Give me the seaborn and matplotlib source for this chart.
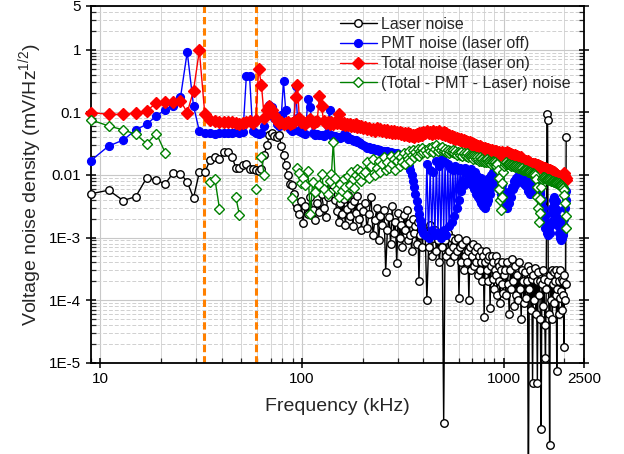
import numpy as np
import pandas as pd
import matplotlib
matplotlib.use("Agg")
import matplotlib.pyplot as plt
import seaborn as sns
from matplotlib.ticker import FixedLocator, FixedFormatter, LogLocator, NullFormatter

sns.set_theme(style="ticks")
plt.rcParams['font.family'] = ['Liberation Sans', 'DejaVu Sans']
plt.rcParams['mathtext.default'] = 'regular'

nan = np.nan

# ---------------- data ----------------
freq = [9, 11, 13, 15, 17, 19, 21, 23, 25, 27,
        29, 31, 33, 35, 37, 39, 41, 43, 45, 47,
        49, 51, 53, 55, 57, 59, 61, 63, 65, 67,
        69, 71, 73, 75, 77, 79, 81, 83, 85, 87,
        89, 91, 93, 95, 97, 99,
        101, 104, 107, 110, 113, 116, 119, 122, 125, 128,
        131, 134, 137, 140, 143, 146, 149, 152, 155, 158,
        161, 164, 167, 170, 173, 176, 179, 182, 185, 188,
        191, 194, 197, 200,
        205, 210, 215, 220, 225, 230, 235, 240, 245, 250,
        255, 260, 265, 270, 275, 280, 285, 290, 295, 300,
        305, 310, 315, 320, 325, 330, 335, 340, 345, 350,
        355, 360, 365, 370, 375, 380, 385, 390, 395, 400,
        408, 416, 424, 432, 440, 448, 456, 464, 472, 480,
        488, 496, 504, 512, 520, 528, 536, 544, 552, 560,
        568, 576, 584, 592, 600, 608, 616, 624, 632, 640,
        648, 656, 664, 672, 680, 688, 696, 704, 712, 720,
        728, 736, 744, 752, 760, 768, 776, 784, 792, 800,
        808, 816, 824, 832, 840, 848, 856, 864, 872, 880,
        888, 896, 904, 912, 920, 928, 936, 944, 952, 960,
        968, 976, 984, 992, 1000,
        1013, 1026, 1039, 1052, 1065, 1078, 1091, 1104, 1117, 1130,
        1143, 1156, 1169, 1182, 1195, 1208, 1221, 1234, 1247, 1260,
        1273, 1286, 1299, 1312, 1325, 1338, 1351, 1364, 1377, 1390,
        1403, 1416, 1429, 1442, 1455, 1468, 1481, 1494, 1507, 1520,
        1533, 1546, 1559, 1572, 1585, 1598, 1611, 1624, 1637, 1650,
        1663, 1676, 1689, 1702, 1715, 1728, 1741, 1754, 1767, 1780,
        1793, 1806, 1819, 1832, 1845, 1858, 1871, 1884, 1897, 1910,
        1923, 1936, 1949, 1962, 1975, 1988, 2001, 2014, 2027, 2040]

laser = [0.0050, 0.0057, 0.0039, 0.0045, 0.0090, 0.0082, 0.0072, 0.0108, 0.0105, 0.0077,
         0.0043, 0.0110, 0.0110, 0.0172, 0.0195, 0.0177, 0.0232, 0.0232, 0.0195, 0.0130,
         0.0130, 0.0142, 0.0147, 0.0124, 0.0124, 0.0120, 0.0115, 0.0125, 0.0210, 0.0300,
         0.0430, 0.0460, 0.0420, 0.0410, 0.0430, 0.0295, 0.0210, 0.0142, 0.0098, 0.0072,
         0.0070, 0.0050, 0.0036, 0.0030, 0.0024, 0.0039,
         0.0017, 0.0032, 0.0024, 0.0045, 0.0028, 0.0019, 0.0036, 0.0026, 0.0050, 0.0030,
         0.0021, 0.0044, 0.0062, 0.0055, 0.0068, 0.0040, 0.0027, 0.0018, 0.0035, 0.0024,
         0.0042, 0.0016, 0.0029, 0.0048, 0.0022, 0.0033, 0.0015, 0.0038, 0.0025, 0.0046,
         0.0020, 0.0031, 0.0013, 0.0027,
         0.0036, 0.0014, 0.0024, 0.0045, 0.0011, 0.0019, 0.0030, 0.0009, 0.0022, 0.0016,
         0.0028, 0.00028, 0.0013, 0.0021, 0.0008, 0.0032, 0.0012, 0.0018, 0.00039, 0.0025,
         0.0010, 0.0016, 0.0007, 0.0023, 0.0013, 0.0028, 0.0009, 0.0017, 0.0011, 0.0006,
         0.0020, 0.0012, 0.0015, 0.0008, 0.0018, 0.00020, 0.0011, 0.0014, 0.0007, 0.0013,
         0.0012, 0.00010, 0.0007, 0.0016, 0.0005, 0.0010, 0.0013, 0.0006, 0.0009, 0.0004,
         0.0011, 0.0007, 1.1e-6, 0.0009, 0.0005, 0.0012, 0.0006, 0.0004, 0.0010, 0.0007,
         0.0005, 0.0009, 0.0006, 0.0010, 0.00011, 0.0007, 0.0004, 0.0008, 0.0003, 0.0005,
         0.0009, 0.0004, 0.0006, 0.00010, 0.0007, 0.0003, 0.0005, 0.0008, 0.00035, 0.0006,
         0.0004, 0.0007, 0.00025, 0.0005, 0.0003, 0.0006, 0.0004, 0.0002, 0.0005, 0.000053,
         0.0004, 0.0006, 0.0003, 0.00045, 0.0002, 0.0005, 0.000074, 0.00035, 0.0005, 0.00022,
         0.0004, 0.00015, 0.0003, 0.0005, 0.00025, 0.00012, 0.0004, 0.0002, 0.00035, 0.00009,
         0.0003, 0.00018, 0.0004, 0.00013, 0.00025,
         0.0003, 0.00012, 0.0004, 0.00018, 0.00006, 0.0003, 0.00015, 0.00045, 0.0002, 0.00008,
         0.00035, 0.00012, 0.00025, 0.0001, 0.0004, 0.00015, 0.00005, 0.0003, 0.0002, 0.00009,
         0.00028, 0.00011, 0.0002, 0.00035, 5e-8, 0.00015, 0.0003, 0.00007, 0.00022, 4.8e-6,
         0.00025, 0.0001, 0.00032, 0.00006, 0.0002, 4.8e-6, 0.00028, 0.00012, 0.0002, 0.00005,
         8.6e-7, 0.00018, 0.0003, 0.00008, 0.00022, 0.00004, 1.2e-5, 0.00015, 0.094, 0.076,
         0.0002, 0.00006, 4.9e-7, 0.00025, 0.0001, 0.0003, 0.00005, 0.00018, 0.00028, 0.00009,
         0.0002, 0.00012, 0.0003, 7.4e-6, 0.00015, 0.00025, 0.00006, 0.0002, 0.00011, 0.0003,
         0.00014, 0.00022, 0.00007, 0.0002, 0.00012, 1.8e-5, 0.00025, 0.0001, 0.00018, 0.041]

pmt = [0.0170, 0.0289, 0.0361, 0.0523, 0.0646, 0.0879, 0.110, 0.127, 0.174, 0.92,
       0.127, 0.050, 0.046, 0.047, 0.045, 0.046, 0.047, 0.046, 0.047, 0.048,
       0.047, 0.048, 0.375, 0.375, 0.050, 0.046, 0.045, 0.047, 0.060, 0.110,
       0.132, 0.120, 0.080, 0.065, 0.060, 0.090, 0.312, 0.110, 0.060, 0.055,
       0.050, 0.052, 0.259, 0.080, 0.050, 0.048,
       0.047, 0.045, 0.163, 0.120, 0.046, 0.044, 0.045, 0.043, 0.044, 0.042,
       0.045, 0.060, 0.110, 0.043, 0.041, 0.042, 0.040, 0.041, 0.039, 0.040,
       0.045, 0.060, 0.042, 0.038, 0.037, 0.038, 0.036, 0.035, 0.036, 0.034,
       0.033, 0.032, 0.031, 0.030,
       0.029, 0.027, 0.028, 0.026, 0.027, 0.025, 0.026, 0.024, 0.025, 0.023,
       0.024, 0.022, 0.024, 0.021, 0.023, 0.021, 0.022, 0.020, 0.022, 0.020,
       0.021, 0.019, 0.020, 0.018, 0.019, 0.017, 0.016, 0.014, 0.012, 0.010,
       0.008, 0.0065, 0.005, 0.0038, 0.003, 0.0024, 0.0019, 0.0016, 0.0013, 0.0012,
       0.0011, 0.0150, 0.0010, 0.0120, 0.0013, 0.0113, 0.0011, 0.0170, 0.0012, 0.0140,
       0.0010, 0.0180, 0.0013, 0.0160, 0.0011, 0.0150, 0.0015, 0.0130, 0.0018, 0.0120,
       0.0022, 0.0140, 0.0030, 0.0120, 0.0040, 0.0130, 0.0055, 0.0120, 0.0070, 0.0130,
       0.0080, 0.0120, 0.0075, 0.0110, 0.0090, 0.0125, 0.0070, 0.0100, 0.0060, 0.0110,
       0.0050, 0.0095, 0.0045, 0.0085, 0.0040, 0.0090, 0.0035, 0.0080, 0.0032, 0.0075,
       0.0030, 0.0080, 0.0035, 0.0085, 0.0040, 0.0090, 0.0050, 0.0100, 0.0065, 0.0110,
       0.0075, 0.0120, 0.0085, 0.0110, 0.0090, 0.0120, 0.0080, 0.0100, 0.0060, 0.0085,
       0.0050, 0.0070, 0.0040, 0.0055, 0.0035,
       0.0032, 0.0045, 0.0030, 0.0040, 0.0035, 0.0055, 0.0045, 0.0065, 0.0060, 0.0080,
       0.0070, 0.0090, 0.0080, 0.0095, 0.0085, 0.0100, 0.0080, 0.0095, 0.0075, 0.0090,
       0.0070, 0.0085, 0.0065, 0.0075, 0.0055, 0.0065, 0.0050, 0.0060, 0.0055, 0.0070,
       0.0065, 0.0085, 0.0075, 0.0090, 0.0080, 0.0085, 0.0065, 0.0070, 0.0050, 0.0055,
       0.0035, 0.0040, 0.0025, 0.0030, 0.0018, 0.0022, 0.0014, 0.0018, 0.0012, 0.0015,
       0.0011, 0.0014, 0.0012, 0.0016, 0.0018, 0.0025, 0.0030, 0.0040, 0.0035, 0.0045,
       0.0030, 0.0038, 0.0022, 0.0028, 0.0016, 0.0020, 0.0012, 0.0015, 0.0010, 0.0012,
       0.0009, 0.0011, 0.0010, 0.0012, 0.0011, 0.0015, 0.0020, 0.0030, 0.0040, 0.0055]

total = [0.099, 0.093, 0.093, 0.0965, 0.106, 0.141, 0.144, 0.144, 0.153, 0.099,
         0.222, 0.975, 0.093, 0.075, 0.072, 0.070, 0.071, 0.069, 0.070, 0.068,
         0.066, 0.067, 0.070, 0.072, 0.068, 0.075, 0.495, 0.274, 0.080, 0.110,
         0.127, 0.110, 0.090, 0.075, 0.068, 0.070, 0.065, 0.068, 0.070, 0.065,
         0.068, 0.070, 0.176, 0.274, 0.080, 0.070,
         0.070, 0.066, 0.072, 0.078, 0.068, 0.071, 0.074, 0.180, 0.127, 0.072,
         0.068, 0.071, 0.066, 0.069, 0.065, 0.070, 0.067, 0.093, 0.068, 0.064,
         0.067, 0.063, 0.066, 0.062, 0.065, 0.061, 0.063, 0.060, 0.066, 0.059,
         0.061, 0.058, 0.060, 0.057,
         0.058, 0.054, 0.057, 0.053, 0.055, 0.051, 0.056, 0.052, 0.054, 0.050,
         0.053, 0.049, 0.052, 0.048, 0.051, 0.047, 0.050, 0.046, 0.049, 0.046,
         0.048, 0.045, 0.047, 0.044, 0.046, 0.043, 0.046, 0.042, 0.045, 0.042,
         0.044, 0.041, 0.043, 0.045, 0.042, 0.046, 0.043, 0.047, 0.044, 0.048,
         0.046, 0.050, 0.047, 0.049, 0.045, 0.051, 0.047, 0.049, 0.046, 0.050,
         0.047, 0.045, 0.048, 0.044, 0.046, 0.042, 0.044, 0.041, 0.042, 0.039,
         0.040, 0.038, 0.039, 0.037, 0.038, 0.036, 0.037, 0.035, 0.036, 0.034,
         0.035, 0.033, 0.034, 0.032, 0.033, 0.031, 0.032, 0.030, 0.031, 0.029,
         0.030, 0.028, 0.029, 0.028, 0.029, 0.027, 0.028, 0.026, 0.027, 0.026,
         0.027, 0.025, 0.026, 0.025, 0.026, 0.024, 0.025, 0.024, 0.025, 0.023,
         0.024, 0.023, 0.024, 0.022, 0.024, 0.023, 0.022, 0.023, 0.022, 0.021,
         0.022, 0.021, 0.023, 0.022, 0.021,
         0.0225, 0.022, 0.023, 0.0215, 0.022, 0.021, 0.0215, 0.0205, 0.021, 0.020,
         0.0205, 0.0195, 0.020, 0.019, 0.0195, 0.0185, 0.019, 0.018, 0.0175, 0.017,
         0.0165, 0.017, 0.016, 0.0165, 0.0158, 0.016, 0.0155, 0.015, 0.0152, 0.0148,
         0.015, 0.0145, 0.0148, 0.0142, 0.0145, 0.014, 0.0142, 0.0137, 0.014, 0.0135,
         0.0132, 0.0135, 0.013, 0.0128, 0.013, 0.0125, 0.0127, 0.0122, 0.0124, 0.012,
         0.0118, 0.0121, 0.0116, 0.0119, 0.0114, 0.0116, 0.0112, 0.011, 0.0112, 0.0108,
         0.0106, 0.0104, 0.0102, 0.0100, 0.0099, 0.0097, 0.0095, 0.0094, 0.0092, 0.0090,
         0.0089, 0.0088, 0.0090, 0.0095, 0.0100, 0.0106, 0.0100, 0.0094, 0.0088, 0.0082]

residual = [0.0757, 0.0607, 0.0524, 0.0447, 0.0316, 0.0458, 0.0226, nan, nan, nan,
            nan, nan, nan, 0.0076, 0.0087, 0.0029, nan, nan, nan, 0.0044,
            0.0023, nan, nan, nan, nan, 0.0060, nan, 0.0195, 0.0098, nan,
            nan, nan, nan, nan, nan, nan, nan, nan, nan, nan,
            0.0043, nan, nan, 0.0130, 0.0108, 0.0075,
            0.0090, 0.0068, 0.0115, 0.0024, 0.0077, 0.0053, nan, 0.0070, 0.0105, 0.0060,
            nan, 0.0050, 0.0080, 0.0103, 0.0340, 0.0090, 0.0060, 0.0045, 0.0072, 0.0056,
            0.0085, 0.0065, 0.0048, 0.0095, 0.0070, 0.0110, 0.0085, 0.0062, 0.0100, 0.0125,
            0.0090, 0.0115, 0.0080, 0.0105,
            0.011, 0.016, 0.009, 0.014, 0.018, 0.010, 0.013, 0.017, 0.011, 0.015,
            0.019, 0.012, 0.016, 0.013, 0.020, 0.015, 0.018, 0.012, 0.017, 0.021,
            0.014, 0.019, 0.016, 0.022, 0.015, 0.020, 0.018, 0.024, 0.017, 0.021,
            0.025, 0.019, 0.023, 0.021, 0.026, 0.020, 0.024, 0.022, 0.027, 0.023,
            0.025, 0.022, 0.027, 0.024, 0.028, 0.023, 0.026, 0.030, 0.024, 0.027,
            0.025, 0.028, 0.024, 0.026, 0.023, 0.025, 0.022, 0.024, 0.023, 0.025,
            0.022, 0.024, 0.021, 0.023, 0.022, 0.021, 0.023, 0.020, 0.022, 0.021,
            0.020, 0.022, 0.019, 0.021, 0.020, 0.019, 0.020, 0.018, 0.020, 0.019,
            0.018, 0.019, 0.018, 0.017, 0.019, 0.018, 0.017, 0.018, 0.017, 0.016,
            0.017, 0.016, 0.018, 0.017, 0.016, 0.017, 0.016, 0.015, 0.016, 0.017,
            0.016, 0.015, 0.016, 0.015, 0.014, 0.015, 0.012, 0.009, 0.006, 0.004,
            0.0028, 0.0045, 0.0075, 0.011, 0.014,
            0.015, 0.016, 0.0152, 0.0148, 0.015, 0.0145, 0.014, 0.0143, 0.0138, 0.014,
            0.0135, 0.0137, 0.0132, 0.013, 0.0133, 0.0128, 0.0125, 0.0127, 0.0122, 0.012,
            0.0118, 0.0120, 0.0115, 0.0117, 0.0112, 0.011, 0.0112, 0.0108, 0.0105, 0.0107,
            0.0104, 0.0102, 0.010, 0.0085, 0.0065, 0.0045, 0.003, 0.0018, 0.0025, 0.0042,
            0.0065, 0.0085, 0.0092, 0.009, 0.0091, 0.0088, 0.0089, 0.0086, 0.0087, 0.0085,
            0.0084, 0.0085, 0.0082, 0.0083, 0.008, 0.0081, 0.0079, 0.008, 0.0077, 0.0078,
            0.0076, 0.0077, 0.0075, 0.0074, 0.0075, 0.0072, 0.0073, 0.007, 0.0071, 0.0069,
            0.0068, 0.0066, 0.0067, 0.0064, 0.0062, 0.0058, 0.0048, 0.0035, 0.0022, 0.0014]

series_labels = ["Laser noise", "PMT noise (laser off)", "Total noise (laser on)",
                 "(Total - PMT - Laser) noise"]
marked_freqs = [32.6, 59.0]

x_ticks = [10, 100, 1000, 2500]
x_tick_labels = ["10", "100", "1000", "2500"]
y_ticks = [1e-5, 1e-4, 1e-3, 0.01, 0.1, 1, 5]
y_tick_labels = ["1E-5", "1E-4", "1E-3", "0.01", "0.1", "1", "5"]

# ---------------- figure ----------------
fig = plt.figure(figsize=(6.24, 4.54), dpi=100)
ax = fig.add_axes([0.1458, 0.2011, 0.7901, 0.7857])
ax.set_xscale('log')
ax.set_yscale('log')


def draw(values, color, marker, mfc, ms, z):
    df = pd.DataFrame({'f': freq, 'v': values})
    idx = np.flatnonzero(df['v'].notna().values)
    segs = np.split(idx, np.where(np.diff(idx) > 1)[0] + 1)
    handle = None
    for seg in segs:
        sns.lineplot(data=df.iloc[seg], x='f', y='v', ax=ax, estimator=None, sort=False,
                     color=color, marker=marker, markerfacecolor=mfc,
                     markeredgecolor=color, markersize=ms, markeredgewidth=1.0,
                     linewidth=1.0, clip_on=False, zorder=z, legend=False)
        if handle is None:
            handle = ax.lines[-1]
    return handle


h1 = draw(laser, 'black', 'o', 'white', 5.4, 3)
h2 = draw(pmt, '#0000FF', 'o', '#0000FF', 5.6, 4)
h3 = draw(total, '#FF0000', 'D', '#FF0000', 6.0, 5)
h4 = draw(residual, '#008000', 'D', 'white', 5.2, 6)

for fx in marked_freqs:
    ax.axvline(fx, color='#FF8000', lw=2.2, ls=(0, (2.4, 1.3)), zorder=2)

ax.set_xlim(9, 2500)
ax.set_ylim(1e-5, 5)

ax.xaxis.set_major_locator(FixedLocator(x_ticks))
ax.xaxis.set_major_formatter(FixedFormatter(x_tick_labels))
ax.xaxis.set_minor_locator(LogLocator(base=10, subs=np.arange(2, 10)))
ax.xaxis.set_minor_formatter(NullFormatter())
ax.yaxis.set_major_locator(FixedLocator(y_ticks))
ax.yaxis.set_major_formatter(FixedFormatter(y_tick_labels))
ax.yaxis.set_minor_locator(LogLocator(base=10, subs=np.arange(2, 10), numticks=20))
ax.yaxis.set_minor_formatter(NullFormatter())

ax.set_axisbelow(True)
ax.grid(which='major', axis='both', color='#C8C8C8', lw=0.8, ls='-')
ax.grid(which='minor', axis='x', color='#D6D6D6', lw=0.7, ls='-')
ax.grid(which='minor', axis='y', color='#D0D0D0', lw=0.7, ls=(0, (4, 2)))

ax.tick_params(which='major', direction='inout', length=7, width=1.1, labelsize=11,
               right=True, top=False, colors='black')
ax.tick_params(which='minor', direction='in', length=3.5, width=0.9, right=True, top=False)
for sp in ax.spines.values():
    sp.set_visible(True)
    sp.set_color('black')
    sp.set_linewidth(1.3)

ax.set_xlabel('Frequency (kHz)', fontsize=14, labelpad=8)
ax.set_ylabel('Voltage noise density (mV/Hz$^{1/2}$)', fontsize=14, labelpad=4)

ax.legend([h1, h2, h3, h4], series_labels, loc='upper left', bbox_to_anchor=(0.505, 0.97),
          frameon=False, fontsize=11.5, handlelength=2.3, handletextpad=0.3,
          labelspacing=0.3, borderpad=0, borderaxespad=0)

fig.savefig('out.png', dpi=100)
